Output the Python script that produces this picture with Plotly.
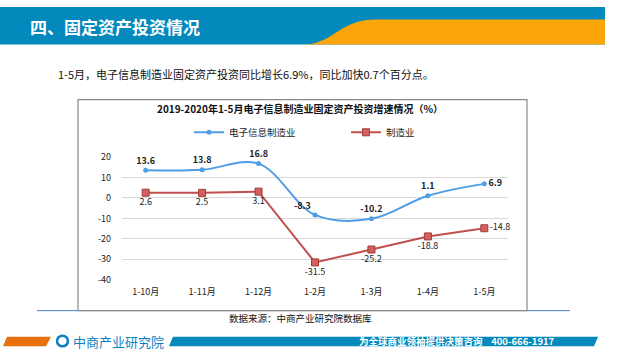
import plotly.graph_objects as go

categories = ["1-10月", "1-11月", "1-12月", "1-2月", "1-3月", "1-4月", "1-5月"]
electronics = [13.6, 13.8, 16.8, -8.3, -10.2, 1.1, 6.9]
manufacturing = [2.6, 2.5, 3.1, -31.5, -25.2, -18.8, -14.8]
y_ticks = [20, 10, 0, -10, -20, -30, -40]

elec_pos = ["top center", "top center", "top center", "top left", "top center", "top center", "middle right"]
manu_pos = ["bottom center"] * 6 + ["middle right"]

W, H = 640, 360
def px(x): return x / W
def py(y): return 1 - y / H

FONT = "Noto Sans CJK SC"
BLUE = "#4F9DE6"
RED = "#C0504D"

fig = go.Figure()
fig.add_trace(go.Scatter(
    x=categories, y=electronics, name="电子信息制造业", mode="lines+markers+text",
    line=dict(color=BLUE, width=2, shape="spline"),
    marker=dict(symbol="circle", size=5, color=BLUE),
    text=[f"{v:.1f}" for v in electronics], textposition=elec_pos,
    textfont=dict(family=FONT, size=9, color="#222222", weight="bold"),
    cliponaxis=False,
))
fig.add_trace(go.Scatter(
    x=categories, y=manufacturing, name="制造业", mode="lines+markers+text",
    line=dict(color=RED, width=2),
    marker=dict(symbol="square", size=7, color="#D0615E", line=dict(color="#A33A37", width=1)),
    text=[f"{v:.1f}" for v in manufacturing], textposition=manu_pos,
    textfont=dict(family=FONT, size=9, color="#222222"),
    cliponaxis=False,
))

shapes = []
# header bar
shapes.append(dict(type="rect", xref="paper", yref="paper", x0=0, x1=px(605), y0=py(39), y1=1,
                   fillcolor="#0389BC", line_width=0, layer="below"))
# orange wave
path = (f"M {px(305)},{py(39)} C {px(335)},{py(37)} {px(340)},{py(13)} {px(375)},{py(13)} "
        f"L {px(605)},{py(13)} L {px(605)},{py(39)} Z")
shapes.append(dict(type="path", xref="paper", yref="paper", path=path,
                   fillcolor="#FCA50A", line_width=0, layer="below"))
# blue thin line under chart
shapes.append(dict(type="line", xref="paper", yref="paper", x0=px(37), x1=px(570), y0=py(315), y1=py(315),
                   line=dict(color="#4A7FC8", width=1), layer="below"))
# chart box
shapes.append(dict(type="rect", xref="paper", yref="paper", x0=px(78), x1=px(527), y0=py(315), y1=py(96),
                   fillcolor="white", line=dict(color="#8A8A8A", width=1.2), layer="below"))
# footer parallelograms
fp = f"M {px(7)},{py(342)} L {px(51)},{py(342)} L {px(46)},{py(352)} L {px(3)},{py(352)} Z"
shapes.append(dict(type="path", xref="paper", yref="paper", path=fp, fillcolor="#E8700E", line_width=0))
bp = f"M {px(173)},{py(342)} L {px(598)},{py(342)} L {px(594)},{py(352)} L {px(169)},{py(352)} Z"
shapes.append(dict(type="path", xref="paper", yref="paper", path=bp, fillcolor="#0389BC", line_width=0))
# logo icon
shapes.append(dict(type="circle", xref="paper", yref="paper", x0=px(57), x1=px(68), y0=py(352), y1=py(341),
                   line=dict(color="#0E7FC0", width=2.5), fillcolor="white"))

annotations = [
    dict(text="四、固定资产投资情况", x=px(28), y=py(20), xref="paper", yref="paper", xanchor="left",
         yanchor="middle", showarrow=False, font=dict(family=FONT, size=17, color="white", weight="bold")),
    dict(text="1-5月，电子信息制造业固定资产投资同比增长6.9%，同比加快0.7个百分点。", x=px(56), y=py(69),
         xref="paper", yref="paper", xanchor="left", yanchor="middle", showarrow=False,
         font=dict(family=FONT, size=11, color="#111111")),
    dict(text="2019-2020年1-5月电子信息制造业固定资产投资增速情况（%）", x=px(300), y=py(105),
         xref="paper", yref="paper", xanchor="center", yanchor="middle", showarrow=False,
         font=dict(family=FONT, size=10, color="#111111", weight="bold")),
    dict(text="数据来源：中商产业研究院数据库", x=px(300), y=py(323), xref="paper", yref="paper",
         xanchor="center", yanchor="middle", showarrow=False, font=dict(family=FONT, size=9.5, color="#111111")),
    dict(text="中商产业研究院", x=px(71), y=py(347), xref="paper", yref="paper", xanchor="left",
         yanchor="middle", showarrow=False, font=dict(family=FONT, size=13, color="#0E7FC0")),
    dict(text="为全球商业领袖提供决策咨询&nbsp;&nbsp;&nbsp;&nbsp;400-666-1917", x=px(557), y=py(347),
         xref="paper", yref="paper", xanchor="right", yanchor="middle", showarrow=False,
         font=dict(family=FONT, size=9.5, color="white", weight="bold")),
]

fig.update_layout(
    width=W, height=H, margin=dict(l=0, r=0, t=0, b=0),
    paper_bgcolor="white", plot_bgcolor="rgba(0,0,0,0)",
    shapes=shapes, annotations=annotations,
    showlegend=True,
    legend=dict(orientation="h", x=px(189), xanchor="left", y=py(130), yanchor="middle",
                font=dict(family=FONT, size=9.5, color="#222222"), bgcolor="rgba(0,0,0,0)",
                entrywidth=112, entrywidthmode="pixels", itemwidth=30),
    xaxis=dict(domain=[px(122), px(508)], showgrid=False, zeroline=False, showline=False,
               ticks="", tickfont=dict(family=FONT, size=9, color="#222222"), anchor="y",
               fixedrange=True, ticklabelstandoff=5),
    yaxis=dict(domain=[py(283), py(155.7)], range=[-40, 20], tickvals=y_ticks,
               ticktext=[str(v) for v in y_ticks], showgrid=True, gridcolor="#D9D9D9", gridwidth=1,
               zeroline=False, showline=False, ticks="", ticklabelstandoff=10,
               tickfont=dict(family=FONT, size=9, color="#222222"), fixedrange=True),
    font=dict(family=FONT),
)

fig.write_html("out.html", config={"displayModeBar": False},
               post_script="document.body.style.margin='0';")
